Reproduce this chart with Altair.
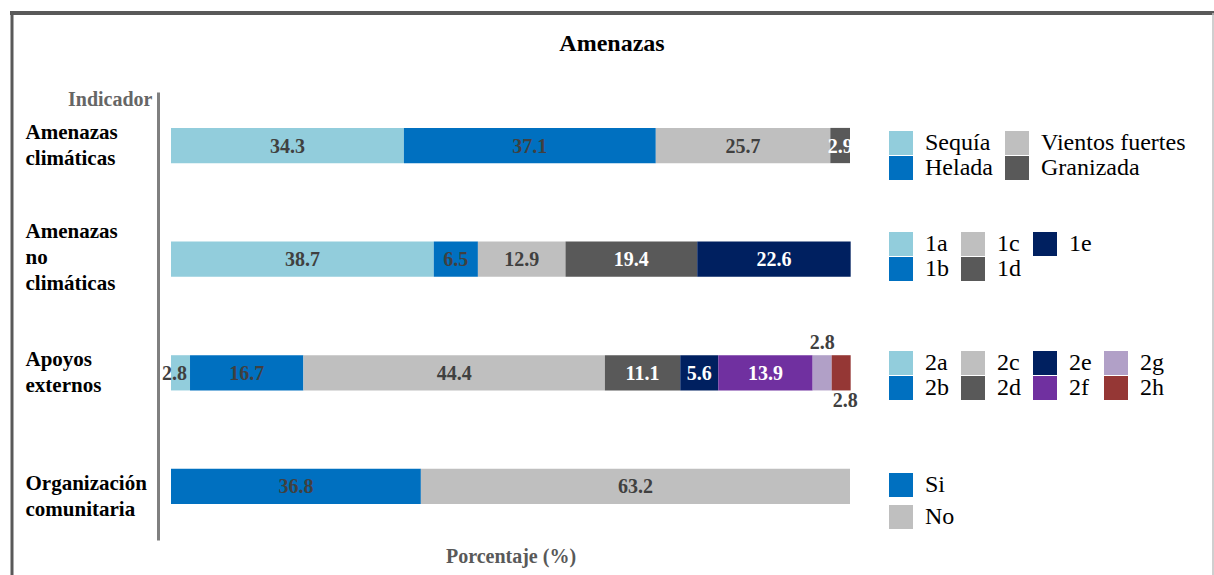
import altair as alt
import pandas as pd

# ---- data ----
rows = ["Amenazas climáticas", "Amenazas no climáticas", "Apoyos externos", "Organización comunitaria"]

cats_r1 = ["Sequía", "Helada", "Vientos fuertes", "Granizada"]
vals_r1 = [34.3, 37.1, 25.7, 2.9]

cats_r2 = ["1a", "1b", "1c", "1d", "1e"]
vals_r2 = [38.7, 6.5, 12.9, 19.4, 22.6]

cats_r3 = ["2a", "2b", "2c", "2d", "2e", "2f", "2g", "2h"]
vals_r3 = [2.8, 16.7, 44.4, 11.1, 5.6, 13.9, 2.8, 2.8]

cats_r4 = ["Si", "No"]
vals_r4 = [36.8, 63.2]

# legend entry order (row-major in the legend grid)
legend_order = [
    ["Sequía", "Vientos fuertes", "Helada", "Granizada"],
    ["1a", "1c", "1e", "1b", "1d"],
    ["2a", "2c", "2e", "2g", "2b", "2d", "2f", "2h"],
    ["Si", "No"],
]

# ---- styles ----
palette = {
    "Sequía": "#92CDDC", "Helada": "#0070C0", "Vientos fuertes": "#BFBFBF", "Granizada": "#595959",
    "1a": "#92CDDC", "1b": "#0070C0", "1c": "#BFBFBF", "1d": "#595959", "1e": "#002060",
    "2a": "#92CDDC", "2b": "#0070C0", "2c": "#BFBFBF", "2d": "#595959", "2e": "#002060",
    "2f": "#7030A0", "2g": "#B1A0C7", "2h": "#953735",
    "Si": "#0070C0", "No": "#BFBFBF",
}
dark = {"Granizada", "1d", "1e", "2d", "2e", "2f"}
SERIF = "Liberation Serif"

recs = []
for r, cats, vals in zip(rows, [cats_r1, cats_r2, cats_r3, cats_r4], [vals_r1, vals_r2, vals_r3, vals_r4]):
    s = 0.0
    for i, (c, v) in enumerate(zip(cats, vals)):
        recs.append(dict(row=r, cat=c, val=v, start=s, end=s + v, mid=s + v / 2, ord=i,
                         tc="#FFFFFF" if c in dark else "#404040", lbl=f"{v:.1f}"))
        s += v
df = pd.DataFrame(recs)

xscale = alt.Scale(domain=[0, 100], nice=False, zero=True)
xaxis = alt.Axis(title="Porcentaje (%)", labels=False, ticks=False, domain=False, grid=False,
                 titleFont=SERIF, titleFontSize=20, titleFontWeight="bold", titleColor="#595959",
                 titlePadding=6)
yscale = alt.Scale(domain=rows, paddingInner=0.69, paddingOuter=0.316)
yaxis = alt.Axis(title="Indicador", titleAngle=0, titleAlign="right", titleBaseline="middle",
                 titleX=-6, titleY=7, titleFont=SERIF, titleFontSize=20, titleFontWeight="bold",
                 titleColor="#666666",
                 labelAlign="left", labelBaseline="middle", labelPadding=133, labelFont=SERIF,
                 labelFontSize=21, labelFontWeight="bold", labelColor="#000000", labelLineHeight=26,
                 labelExpr="split(datum.label, ' ')", labelLimit=400,
                 labelOffset={"condition": [
                     {"test": "datum.value == 'Amenazas no climáticas'", "value": -27},
                     {"test": "datum.value == 'Organización comunitaria'", "value": -2}],
                     "value": -13},
                 ticks=False, tickSize=0, domainColor="#808080", domainWidth=3, offset=13, grid=False)
Y = alt.Y("row:N", scale=yscale, axis=yaxis)

base = alt.Chart(df)

legend_pos = [(718, 39, 2, 1), (718, 140, 3, 1), (718, 259, 4, 1), (718, 381, 1, 8)]

bar_layers = []
for k, r in enumerate(rows):
    lx, ly, ncol, rp = legend_pos[k]
    dom = legend_order[k]
    leg = alt.Legend(title=None, orient="none", legendX=lx, legendY=ly, columns=ncol,
                     direction="horizontal", symbolType="square", symbolSize=576,
                     symbolStrokeWidth=0, labelFont=SERIF, labelFontSize=24, labelColor="#000000",
                     labelOffset=12, columnPadding=12, rowPadding=rp, labelLimit=400, padding=0)
    bar_layers.append(
        base.transform_filter(alt.datum.row == r).mark_bar().encode(
            x=alt.X("start:Q", scale=xscale, axis=xaxis),
            x2="end:Q",
            y=Y,
            color=alt.Color("cat:N", scale=alt.Scale(domain=dom, range=[palette[c] for c in dom]),
                            legend=leg),
        )
    )

txt_common = dict(font=SERIF, fontSize=20, fontWeight="bold", baseline="middle", align="center")
tenc = dict(x=alt.X("mid:Q", scale=xscale, axis=xaxis), y=Y, text="lbl:N",
            color=alt.Color("tc:N", scale=None, legend=None))

t_main = base.transform_filter(
    ~alt.FieldOneOfPredicate(field="cat", oneOf=["2a", "2g", "2h"])
).mark_text(dy=1, **txt_common).encode(**tenc)
t_left = base.transform_filter(alt.datum.cat == "2a").mark_text(dy=1, dx=-6, **txt_common).encode(**tenc)
t_up = base.transform_filter(alt.datum.cat == "2g").mark_text(dy=-30, dx=0, **txt_common).encode(**tenc)
t_down = base.transform_filter(alt.datum.cat == "2h").mark_text(dy=28, dx=4, **txt_common).encode(**tenc)

# decorative frame
one = pd.DataFrame({"k": [0]})
frame_top = alt.Chart(one).mark_rule(color="#595959", strokeWidth=4).encode(
    x=alt.value(-161), x2=alt.value(1043), y=alt.value(-79))
frame_left = alt.Chart(one).mark_rule(color="#595959", strokeWidth=3).encode(
    x=alt.value(-159), y=alt.value(-81), y2=alt.value(483))
frame_right = alt.Chart(one).mark_rule(color="#BFBFBF", strokeWidth=1.5).encode(
    x=alt.value(1042), y=alt.value(-79), y2=alt.value(483))

chart = alt.layer(*bar_layers, t_main, t_left, t_up, t_down, frame_top, frame_left, frame_right).resolve_scale(
    color="independent"
).properties(
    width=679, height=448,
    title=alt.TitleParams("Amenazas", font=SERIF, fontSize=24, fontWeight="bold", color="#000000",
                          anchor="middle", frame="bounds", dy=50),
    autosize=alt.AutoSizeParams(type="none"),
    padding={"left": 171, "top": 92, "right": 364, "bottom": 35},
).configure(background="white", font=SERIF).configure_view(stroke=None, strokeWidth=0)

chart.save("out.html", embed_options={"renderer": "svg", "actions": False})
